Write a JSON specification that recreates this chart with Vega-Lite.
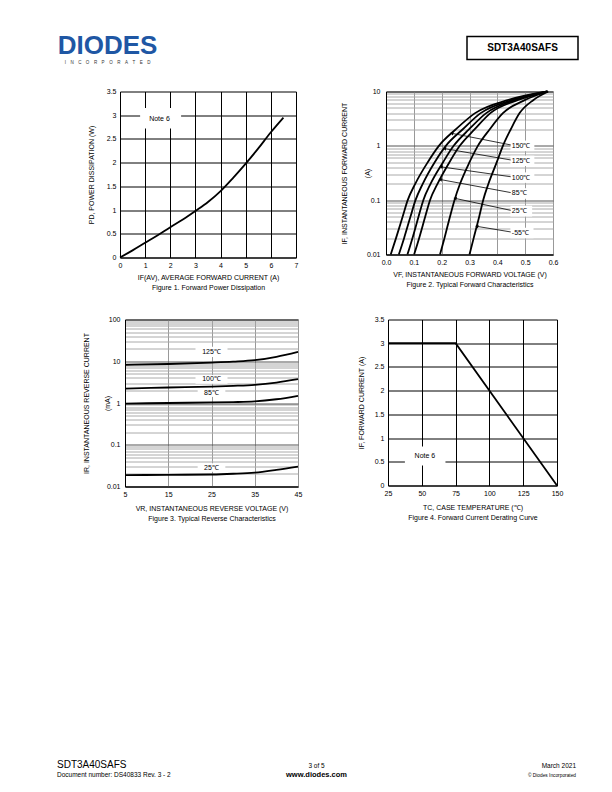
{
  "$schema": "https://vega.github.io/schema/vega-lite/v6.json",
  "background": "white",
  "padding": {"left": 57, "top": 32.5, "right": 5, "bottom": 5},
  "config": {
    "font": "Liberation Sans",
    "view": {"stroke": null},
    "axis": {
      "labelFontSize": 7, "titleFontSize": 7, "titleFontWeight": "normal",
      "labelColor": "#000", "titleColor": "#000", "domainColor": "#000", "domainWidth": 1,
      "ticks": false, "grid": true, "gridColor": "#000", "gridWidth": 1, "gridOpacity": 1,
      "labelPadding": 4, "titleLineHeight": 10, "labelFlush": false, "labelOverlap": false,
      "tickCount": 100
    },
    "text": {"color": "#000"}
  },
  "datasets": {
    "fig1": [
      {"current": 0, "power": 0}, {"current": 0.5, "power": 0.15}, {"current": 1, "power": 0.31},
      {"current": 1.5, "power": 0.47}, {"current": 2, "power": 0.64}, {"current": 2.5, "power": 0.8},
      {"current": 3, "power": 0.98}, {"current": 3.5, "power": 1.17}, {"current": 4, "power": 1.4},
      {"current": 4.5, "power": 1.68}, {"current": 5, "power": 1.98}, {"current": 5.5, "power": 2.3},
      {"current": 6, "power": 2.64}, {"current": 6.5, "power": 2.95}
    ],
    "note1": [{"label": "Note 6", "x": 1.57, "y": 2.93, "x1": 0.8, "x2": 2.43, "y1": 2.72, "y2": 3.15}],
    "fig2": [
      {"temp": "150", "voltage": 0.017, "current": 0.01}, {"temp": "150", "voltage": 0.036, "current": 0.02},
      {"temp": "150", "voltage": 0.06, "current": 0.05}, {"temp": "150", "voltage": 0.078, "current": 0.1},
      {"temp": "150", "voltage": 0.105, "current": 0.2}, {"temp": "150", "voltage": 0.15, "current": 0.5},
      {"temp": "150", "voltage": 0.19, "current": 1}, {"temp": "150", "voltage": 0.25, "current": 2},
      {"temp": "150", "voltage": 0.32, "current": 4}, {"temp": "150", "voltage": 0.44, "current": 7},
      {"temp": "150", "voltage": 0.58, "current": 10},
      {"temp": "125", "voltage": 0.046, "current": 0.01}, {"temp": "125", "voltage": 0.065, "current": 0.02},
      {"temp": "125", "voltage": 0.088, "current": 0.05}, {"temp": "125", "voltage": 0.106, "current": 0.1},
      {"temp": "125", "voltage": 0.132, "current": 0.2}, {"temp": "125", "voltage": 0.175, "current": 0.5},
      {"temp": "125", "voltage": 0.215, "current": 1}, {"temp": "125", "voltage": 0.275, "current": 2},
      {"temp": "125", "voltage": 0.34, "current": 4}, {"temp": "125", "voltage": 0.455, "current": 7},
      {"temp": "125", "voltage": 0.58, "current": 10},
      {"temp": "100", "voltage": 0.077, "current": 0.01}, {"temp": "100", "voltage": 0.095, "current": 0.02},
      {"temp": "100", "voltage": 0.117, "current": 0.05}, {"temp": "100", "voltage": 0.134, "current": 0.1},
      {"temp": "100", "voltage": 0.16, "current": 0.2}, {"temp": "100", "voltage": 0.205, "current": 0.5},
      {"temp": "100", "voltage": 0.243, "current": 1}, {"temp": "100", "voltage": 0.298, "current": 2},
      {"temp": "100", "voltage": 0.36, "current": 4}, {"temp": "100", "voltage": 0.465, "current": 7},
      {"temp": "100", "voltage": 0.58, "current": 10},
      {"temp": "85", "voltage": 0.101, "current": 0.01}, {"temp": "85", "voltage": 0.119, "current": 0.02},
      {"temp": "85", "voltage": 0.141, "current": 0.05}, {"temp": "85", "voltage": 0.158, "current": 0.1},
      {"temp": "85", "voltage": 0.185, "current": 0.2}, {"temp": "85", "voltage": 0.228, "current": 0.5},
      {"temp": "85", "voltage": 0.265, "current": 1}, {"temp": "85", "voltage": 0.318, "current": 2},
      {"temp": "85", "voltage": 0.375, "current": 4}, {"temp": "85", "voltage": 0.475, "current": 7},
      {"temp": "85", "voltage": 0.58, "current": 10},
      {"temp": "25", "voltage": 0.194, "current": 0.01}, {"temp": "25", "voltage": 0.21, "current": 0.02},
      {"temp": "25", "voltage": 0.23, "current": 0.05}, {"temp": "25", "voltage": 0.246, "current": 0.1},
      {"temp": "25", "voltage": 0.266, "current": 0.2}, {"temp": "25", "voltage": 0.3, "current": 0.5},
      {"temp": "25", "voltage": 0.33, "current": 1}, {"temp": "25", "voltage": 0.372, "current": 2},
      {"temp": "25", "voltage": 0.42, "current": 4}, {"temp": "25", "voltage": 0.5, "current": 7},
      {"temp": "25", "voltage": 0.58, "current": 10},
      {"temp": "-55", "voltage": 0.3, "current": 0.01}, {"temp": "-55", "voltage": 0.315, "current": 0.02},
      {"temp": "-55", "voltage": 0.335, "current": 0.05}, {"temp": "-55", "voltage": 0.349, "current": 0.1},
      {"temp": "-55", "voltage": 0.368, "current": 0.2}, {"temp": "-55", "voltage": 0.398, "current": 0.5},
      {"temp": "-55", "voltage": 0.42, "current": 1}, {"temp": "-55", "voltage": 0.448, "current": 2},
      {"temp": "-55", "voltage": 0.48, "current": 4}, {"temp": "-55", "voltage": 0.53, "current": 7},
      {"temp": "-55", "voltage": 0.583, "current": 10}
    ],
    "fig2labels": [
      {"label": "150℃", "lx": 0.452, "li": 1.0, "v0": 0.448, "i0": 1.04, "tipV": 0.236, "tipI": 1.7, "bx1": 0.447, "bx2": 0.533, "by1": 0.8, "by2": 1.25},
      {"label": "125℃", "lx": 0.452, "li": 0.53, "v0": 0.448, "i0": 0.55, "tipV": 0.21, "tipI": 0.89, "bx1": 0.447, "bx2": 0.533, "by1": 0.424, "by2": 0.66},
      {"label": "100℃", "lx": 0.452, "li": 0.26, "v0": 0.448, "i0": 0.27, "tipV": 0.198, "tipI": 0.41, "bx1": 0.447, "bx2": 0.533, "by1": 0.208, "by2": 0.325},
      {"label": "85℃", "lx": 0.452, "li": 0.133, "v0": 0.448, "i0": 0.138, "tipV": 0.195, "tipI": 0.24, "bx1": 0.447, "bx2": 0.525, "by1": 0.106, "by2": 0.166},
      {"label": "25℃", "lx": 0.452, "li": 0.063, "v0": 0.448, "i0": 0.065, "tipV": 0.248, "tipI": 0.108, "bx1": 0.447, "bx2": 0.525, "by1": 0.05, "by2": 0.079},
      {"label": "-55℃", "lx": 0.452, "li": 0.025, "v0": 0.448, "i0": 0.026, "tipV": 0.326, "tipI": 0.033, "bx1": 0.447, "bx2": 0.53, "by1": 0.02, "by2": 0.031}
    ],
    "fig3": [
      {"temp": "125", "vr": 5, "ir": 8.2}, {"temp": "125", "vr": 15, "ir": 8.6}, {"temp": "125", "vr": 25, "ir": 9.3},
      {"temp": "125", "vr": 30, "ir": 9.8}, {"temp": "125", "vr": 35, "ir": 10.6}, {"temp": "125", "vr": 40, "ir": 12.8},
      {"temp": "125", "vr": 45, "ir": 16.8},
      {"temp": "100", "vr": 5, "ir": 2.22}, {"temp": "100", "vr": 15, "ir": 2.35}, {"temp": "100", "vr": 25, "ir": 2.48},
      {"temp": "100", "vr": 30, "ir": 2.58}, {"temp": "100", "vr": 35, "ir": 2.73}, {"temp": "100", "vr": 40, "ir": 3.09},
      {"temp": "100", "vr": 45, "ir": 3.72},
      {"temp": "85", "vr": 5, "ir": 0.97}, {"temp": "85", "vr": 15, "ir": 1.0}, {"temp": "85", "vr": 25, "ir": 1.03},
      {"temp": "85", "vr": 30, "ir": 1.05}, {"temp": "85", "vr": 35, "ir": 1.09}, {"temp": "85", "vr": 40, "ir": 1.23},
      {"temp": "85", "vr": 45, "ir": 1.49},
      {"temp": "25", "vr": 5, "ir": 0.0187}, {"temp": "25", "vr": 15, "ir": 0.019}, {"temp": "25", "vr": 25, "ir": 0.0194},
      {"temp": "25", "vr": 30, "ir": 0.0202}, {"temp": "25", "vr": 35, "ir": 0.0216}, {"temp": "25", "vr": 40, "ir": 0.0251},
      {"temp": "25", "vr": 45, "ir": 0.03}
    ],
    "fig3labels": [
      {"label": "125℃", "x": 25, "y": 16.8, "x1": 21.3, "x2": 28.7, "y1": 12.6, "y2": 22.4},
      {"label": "100℃", "x": 25, "y": 3.7, "x1": 21.3, "x2": 28.7, "y1": 2.9, "y2": 4.7},
      {"label": "85℃", "x": 25, "y": 1.78, "x1": 21.8, "x2": 28.2, "y1": 1.4, "y2": 2.25},
      {"label": "25℃", "x": 25, "y": 0.0285, "x1": 21.8, "x2": 28.2, "y1": 0.0225, "y2": 0.036}
    ],
    "fig4": [
      {"tc": 25, "iF": 3}, {"tc": 75, "iF": 3}, {"tc": 150, "iF": 0}
    ],
    "note4": [{"label": "Note 6", "x": 52.3, "y": 0.62, "x1": 37.5, "x2": 67.5, "y1": 0.42, "y2": 0.82}]
  },
  "spacing": 0,
  "vconcat": [
    {
      "spacing": 0,
      "bounds": "flush",
      "hconcat": [
        {
          "width": 101, "height": 19,
          "data": {"values": [{"name": "DIODES"}]},
          "mark": {"type": "text", "fontSize": 26, "fontWeight": "bold", "color": "#1f57a4", "baseline": "middle"},
          "encoding": {"text": {"field": "name"}},
          "title": {"text": "I\u2003N\u2003C\u2003O\u2003R\u2003P\u2003O\u2003R\u2003A\u2003T\u2003E\u2003D", "orient": "bottom", "fontSize": 4.5, "fontWeight": "normal", "color": "#333", "offset": 1, "anchor": "middle"}
        },
        {"width": 309, "height": 50, "data": {"values": [{"gap": 1}]}, "mark": {"type": "point", "opacity": 0}},
        {
          "width": 111, "height": 23,
          "view": {"stroke": "black", "strokeWidth": 1.5},
          "data": {"values": [{"part": "SDT3A40SAFS"}]},
          "mark": {"type": "text", "fontSize": 10, "fontWeight": "bold", "baseline": "middle"},
          "encoding": {"text": {"field": "part"}}
        }
      ]
    },
    {
      "spacing": 0,
      "bounds": "flush",
      "hconcat": [
        {"width": 63, "height": 223, "data": {"values": [{"gap": 1}]}, "mark": {"type": "point", "opacity": 0}},
        {
          "width": 176, "height": 166,
          "layer": [
            {
              "data": {"name": "fig1"},
              "mark": {"type": "line", "color": "black", "strokeWidth": 1.8, "interpolate": "monotone"},
              "encoding": {
                "x": {"field": "current", "type": "quantitative", "scale": {"domain": [0, 7], "nice": false},
                      "axis": {"values": [0, 1, 2, 3, 4, 5, 6, 7], "tickCount": 100, "labelExpr": "'' + datum.value", "titlePadding": 4.5,
                               "title": ["IF(AV), AVERAGE FORWARD CURRENT (A)", "Figure 1. Forward Power Dissipation"]}},
                "y": {"field": "power", "type": "quantitative", "scale": {"domain": [0, 3.5], "nice": false},
                      "axis": {"values": [0, 0.5, 1, 1.5, 2, 2.5, 3, 3.5], "tickCount": 100, "labelExpr": "'' + datum.value", "titlePadding": 12,
                               "title": "PD, POWER DISSIPATION (W)"}}
              }
            },
            {
              "data": {"name": "note1"},
              "mark": {"type": "rect", "color": "white"},
              "encoding": {
                "x": {"field": "x1", "type": "quantitative", "scale": {"domain": [0, 7], "nice": false}},
                "x2": {"field": "x2"},
                "y": {"field": "y1", "type": "quantitative", "scale": {"domain": [0, 3.5], "nice": false}},
                "y2": {"field": "y2"}
              }
            },
            {
              "data": {"name": "note1"},
              "mark": {"type": "text", "fontSize": 7, "baseline": "middle"},
              "encoding": {
                "x": {"field": "x", "type": "quantitative", "scale": {"domain": [0, 7], "nice": false}},
                "y": {"field": "y", "type": "quantitative", "scale": {"domain": [0, 3.5], "nice": false}},
                "text": {"field": "label"}
              }
            }
          ]
        },
        {"width": 90, "height": 1, "data": {"values": [{"gap": 1}]}, "mark": {"type": "point", "opacity": 0}},
        {
          "width": 167, "height": 163,
          "view": {"stroke": "black"},
          "layer": [
            {
              "data": {"name": "fig2labels"},
              "mark": {"type": "rect", "color": "white"},
              "encoding": {
                "x": {"field": "bx1", "type": "quantitative", "scale": {"domain": [0, 0.6], "nice": false}},
                "x2": {"field": "bx2"},
                "y": {"field": "by1", "type": "quantitative", "scale": {"type": "log", "domain": [0.01, 10], "nice": false}},
                "y2": {"field": "by2"}
              }
            },
            {
              "data": {"name": "fig2"},
              "mark": {"type": "line", "color": "black", "strokeWidth": 1.8, "interpolate": "monotone"},
              "encoding": {
                "x": {"field": "voltage", "type": "quantitative", "scale": {"domain": [0, 0.6], "nice": false},
                      "axis": {"values": [0, 0.1, 0.2, 0.3, 0.4, 0.5, 0.6], "tickCount": 100, "labelExpr": "format(datum.value, '.1f')", "gridColor": "#999",
                               "labelPadding": 4, "titlePadding": 4.5,
                               "title": ["VF, INSTANTANEOUS FORWARD VOLTAGE (V)", "Figure 2. Typical Forward Characteristics"]}},
                "y": {"field": "current", "type": "quantitative", "scale": {"type": "log", "domain": [0.01, 10], "nice": false},
                      "axis": {"values": [0.01, 0.02, 0.03, 0.04, 0.05, 0.06, 0.07, 0.08, 0.09, 0.1, 0.2, 0.3, 0.4, 0.5, 0.6, 0.7, 0.8, 0.9, 1, 2, 3, 4, 5, 6, 7, 8, 9, 10],
                               "tickCount": 100,
                               "labelExpr": "indexof([0.01, 0.1, 1, 10], datum.value) >= 0 ? '' + datum.value : ''",
                               "gridColor": {"condition": {"test": "indexof([0.01, 0.1, 1, 10], datum.value) >= 0", "value": "#555"}, "value": "#aaa"},
                               "labelPadding": 6, "titlePadding": -4, "titleLineHeight": 23,
                               "title": ["IF, INSTANTANEOUS FORWARD CURRENT", "(A)"]}},
                "detail": {"field": "temp"}
              }
            },
            {
              "data": {"name": "fig2labels"},
              "mark": {"type": "rule", "color": "black", "strokeWidth": 0.8},
              "encoding": {
                "x": {"field": "v0", "type": "quantitative", "scale": {"domain": [0, 0.6], "nice": false}},
                "y": {"field": "i0", "type": "quantitative", "scale": {"type": "log", "domain": [0.01, 10], "nice": false}},
                "x2": {"field": "tipV"},
                "y2": {"field": "tipI"}
              }
            },
            {
              "data": {"name": "fig2labels"},
              "mark": {"type": "point", "shape": "triangle-left", "filled": true, "color": "black", "size": 14, "angle": 10, "opacity": 1},
              "encoding": {
                "x": {"field": "tipV", "type": "quantitative", "scale": {"domain": [0, 0.6], "nice": false}},
                "y": {"field": "tipI", "type": "quantitative", "scale": {"type": "log", "domain": [0.01, 10], "nice": false}}
              }
            },
            {
              "data": {"name": "fig2labels"},
              "mark": {"type": "text", "align": "left", "baseline": "middle", "fontSize": 7},
              "encoding": {
                "x": {"field": "lx", "type": "quantitative", "scale": {"domain": [0, 0.6], "nice": false}},
                "y": {"field": "li", "type": "quantitative", "scale": {"type": "log", "domain": [0.01, 10], "nice": false}},
                "text": {"field": "label"}
              }
            }
          ]
        }
      ]
    },
    {
      "spacing": 0,
      "bounds": "flush",
      "hconcat": [
        {"width": 68, "height": 439.5, "data": {"values": [{"gap": 1}]}, "mark": {"type": "point", "opacity": 0}},
        {
          "width": 173, "height": 167,
          "view": {"stroke": "black"},
          "layer": [
            {
              "data": {"name": "fig3labels"},
              "mark": {"type": "rect", "color": "white"},
              "encoding": {
                "x": {"field": "x1", "type": "quantitative", "scale": {"domain": [5, 45], "nice": false}},
                "x2": {"field": "x2"},
                "y": {"field": "y1", "type": "quantitative", "scale": {"type": "log", "domain": [0.01, 100], "nice": false}},
                "y2": {"field": "y2"}
              }
            },
            {
              "data": {"name": "fig3"},
              "mark": {"type": "line", "color": "black", "strokeWidth": 1.8, "interpolate": "monotone"},
              "encoding": {
                "x": {"field": "vr", "type": "quantitative", "scale": {"domain": [5, 45], "nice": false},
                      "axis": {"values": [5, 15, 25, 35, 45], "tickCount": 100, "labelExpr": "'' + datum.value", "gridColor": "#999",
                               "labelPadding": 4, "titlePadding": 7,
                               "title": ["VR, INSTANTANEOUS REVERSE VOLTAGE (V)", "Figure 3. Typical Reverse Characteristics"]}},
                "y": {"field": "ir", "type": "quantitative", "scale": {"type": "log", "domain": [0.01, 100], "nice": false},
                      "axis": {"values": [0.01, 0.02, 0.03, 0.04, 0.05, 0.06, 0.07, 0.08, 0.09, 0.1, 0.2, 0.3, 0.4, 0.5, 0.6, 0.7, 0.8, 0.9, 1, 2, 3, 4, 5, 6, 7, 8, 9, 10, 20, 30, 40, 50, 60, 70, 80, 90, 100],
                               "tickCount": 100,
                               "labelExpr": "indexof([0.01, 0.1, 1, 10, 100], datum.value) >= 0 ? '' + datum.value : ''",
                               "gridColor": {"condition": {"test": "indexof([0.01, 0.1, 1, 10, 100], datum.value) >= 0", "value": "#555"}, "value": "#aaa"},
                               "labelPadding": 5, "titlePadding": -4, "titleLineHeight": 21,
                               "title": ["IR, INSTANTANEOUS REVERSE CURRENT", "(mA)"]}},
                "detail": {"field": "temp"}
              }
            },
            {
              "data": {"name": "fig3labels"},
              "mark": {"type": "text", "baseline": "middle", "fontSize": 7},
              "encoding": {
                "x": {"field": "x", "type": "quantitative", "scale": {"domain": [5, 45], "nice": false}},
                "y": {"field": "y", "type": "quantitative", "scale": {"type": "log", "domain": [0.01, 100], "nice": false}},
                "text": {"field": "label"}
              }
            }
          ]
        },
        {"width": 90, "height": 1, "data": {"values": [{"gap": 1}]}, "mark": {"type": "point", "opacity": 0}},
        {
          "width": 169, "height": 166,
          "layer": [
            {
              "data": {"name": "fig4"},
              "mark": {"type": "line", "color": "black", "strokeWidth": 1.8},
              "encoding": {
                "x": {"field": "tc", "type": "quantitative", "scale": {"domain": [25, 150], "nice": false},
                      "axis": {"values": [25, 50, 75, 100, 125, 150], "tickCount": 100, "labelExpr": "'' + datum.value",
                               "labelPadding": 4, "titlePadding": 7,
                               "title": ["TC, CASE TEMPERATURE (℃)", "Figure 4. Forward Current Derating Curve"]}},
                "y": {"field": "iF", "type": "quantitative", "scale": {"domain": [0, 3.5], "nice": false},
                      "axis": {"values": [0, 0.5, 1, 1.5, 2, 2.5, 3, 3.5], "tickCount": 100, "labelExpr": "'' + datum.value", "titlePadding": 10,
                               "title": "IF, FORWARD CURRENT (A)"}}
              }
            },
            {
              "data": {"name": "note4"},
              "mark": {"type": "rect", "color": "white"},
              "encoding": {
                "x": {"field": "x1", "type": "quantitative", "scale": {"domain": [25, 150], "nice": false}},
                "x2": {"field": "x2"},
                "y": {"field": "y1", "type": "quantitative", "scale": {"domain": [0, 3.5], "nice": false}},
                "y2": {"field": "y2"}
              }
            },
            {
              "data": {"name": "note4"},
              "mark": {"type": "text", "fontSize": 7, "baseline": "middle"},
              "encoding": {
                "x": {"field": "x", "type": "quantitative", "scale": {"domain": [25, 150], "nice": false}},
                "y": {"field": "y", "type": "quantitative", "scale": {"domain": [0, 3.5], "nice": false}},
                "text": {"field": "label"}
              }
            }
          ]
        }
      ]
    },
    {
      "width": 519, "height": 9,
      "layer": [
        {
          "data": {"values": [{"pos": "left", "line": "top", "text": "SDT3A40SAFS"}]},
          "mark": {"type": "text", "align": "left", "baseline": "alphabetic", "fontSize": 10},
          "encoding": {
            "x": {"field": "pos", "type": "nominal", "scale": {"type": "point", "domain": ["left", "center", "right"], "padding": 0}, "axis": null},
            "y": {"field": "line", "type": "nominal", "scale": {"type": "point", "domain": ["top", "bottom"], "padding": 0}, "axis": null},
            "text": {"field": "text"}
          }
        },
        {
          "data": {"values": [{"pos": "left", "line": "bottom", "text": "Document number: DS40833 Rev. 3 - 2"}]},
          "mark": {"type": "text", "align": "left", "baseline": "alphabetic", "fontSize": 6.5},
          "encoding": {
            "x": {"field": "pos", "type": "nominal", "scale": {"type": "point", "domain": ["left", "center", "right"], "padding": 0}, "axis": null},
            "y": {"field": "line", "type": "nominal", "scale": {"type": "point", "domain": ["top", "bottom"], "padding": 0}, "axis": null},
            "text": {"field": "text"}
          }
        },
        {
          "data": {"values": [{"pos": "center", "line": "top", "text": "3 of 5"}]},
          "mark": {"type": "text", "align": "center", "baseline": "alphabetic", "fontSize": 6.5},
          "encoding": {
            "x": {"field": "pos", "type": "nominal", "scale": {"type": "point", "domain": ["left", "center", "right"], "padding": 0}, "axis": null},
            "y": {"field": "line", "type": "nominal", "scale": {"type": "point", "domain": ["top", "bottom"], "padding": 0}, "axis": null},
            "text": {"field": "text"}
          }
        },
        {
          "data": {"values": [{"pos": "center", "line": "bottom", "text": "www.diodes.com"}]},
          "mark": {"type": "text", "align": "center", "baseline": "alphabetic", "fontSize": 7.5, "fontWeight": "bold"},
          "encoding": {
            "x": {"field": "pos", "type": "nominal", "scale": {"type": "point", "domain": ["left", "center", "right"], "padding": 0}, "axis": null},
            "y": {"field": "line", "type": "nominal", "scale": {"type": "point", "domain": ["top", "bottom"], "padding": 0}, "axis": null},
            "text": {"field": "text"}
          }
        },
        {
          "data": {"values": [{"pos": "right", "line": "top", "text": "March 2021"}]},
          "mark": {"type": "text", "align": "right", "baseline": "alphabetic", "fontSize": 6.5},
          "encoding": {
            "x": {"field": "pos", "type": "nominal", "scale": {"type": "point", "domain": ["left", "center", "right"], "padding": 0}, "axis": null},
            "y": {"field": "line", "type": "nominal", "scale": {"type": "point", "domain": ["top", "bottom"], "padding": 0}, "axis": null},
            "text": {"field": "text"}
          }
        },
        {
          "data": {"values": [{"pos": "right", "line": "bottom", "text": "© Diodes Incorporated"}]},
          "mark": {"type": "text", "align": "right", "baseline": "alphabetic", "fontSize": 4.8},
          "encoding": {
            "x": {"field": "pos", "type": "nominal", "scale": {"type": "point", "domain": ["left", "center", "right"], "padding": 0}, "axis": null},
            "y": {"field": "line", "type": "nominal", "scale": {"type": "point", "domain": ["top", "bottom"], "padding": 0}, "axis": null},
            "text": {"field": "text"}
          }
        }
      ]
    }
  ]
}
